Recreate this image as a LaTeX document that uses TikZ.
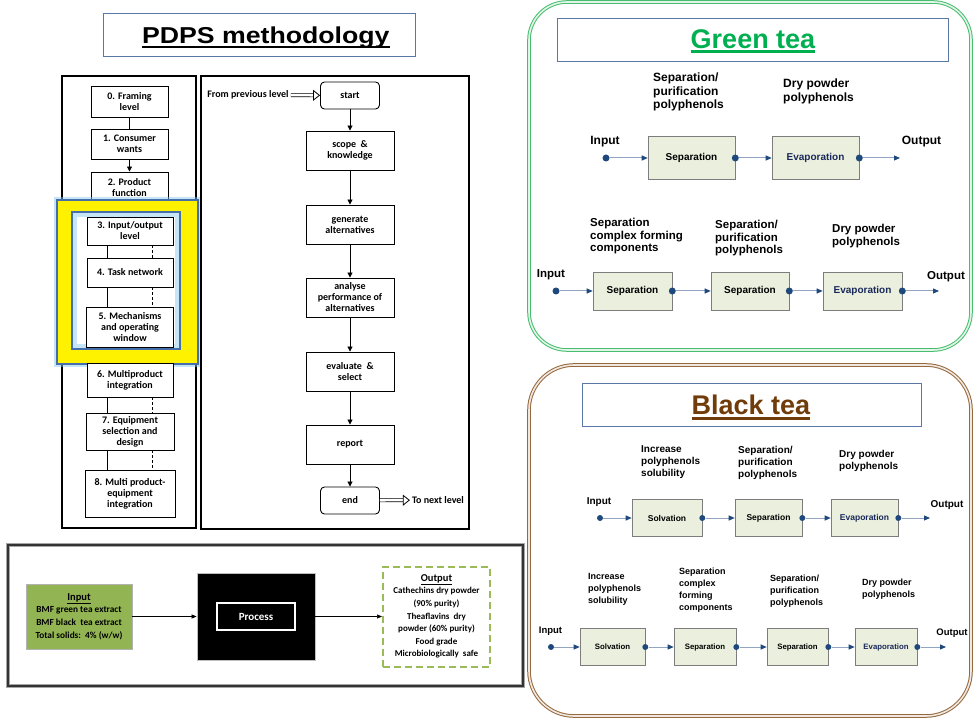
\documentclass[tikz,border=0pt]{standalone}
\usepackage{fontspec}
\setmainfont{Liberation Sans}
\newfontfamily\carl{Carlito}
\usetikzlibrary{arrows.meta}

\begin{document}
\begin{tikzpicture}[x=1pt,y=1pt,
  lvl/.style={draw=black,line width=0.9pt,fill=white,align=center,inner sep=1pt,
    font=\carl\bfseries\fontsize{10}{11}\selectfont},
  stp/.style={lvl,minimum width=88pt,minimum height=39pt},
  trm/.style={lvl,rounded corners=4pt,minimum width=59pt,minimum height=27pt},
  link/.style={draw=black,line width=0.9pt},
  down/.style={link,-{Triangle[length=5pt,width=5pt]}},
  dblarrow/.style={draw=black,double=white,double distance=2.4pt,line width=0.7pt,
    -{Triangle[open,length=7pt,width=11pt,line width=0.8pt]}},
  opbox/.style={draw=uDraw,fill=uFill,line width=0.6pt,inner sep=0pt,
    font=\bfseries\fontsize{#1}{#1}\selectfont},
  pdot/.style={circle,fill=dBlue,inner sep=0pt,minimum size=#1},
  flow/.style={draw=lBlue,line width=1pt,-{Triangle[length=6pt,width=5pt,color=dBlue]}},
  plab/.style 2 args={anchor=north west,align=left,inner sep=0pt,
    font=\bfseries\fontsize{#1}{#2}\selectfont},
  io/.style={inner sep=0pt,font=\bfseries\fontsize{#1}{#1}\selectfont},
  titlebox/.style={draw=tBlue,line width=0.8pt}]
\definecolor{tBlue}{RGB}{90,120,165}
\definecolor{gTea}{RGB}{0,176,80}
\definecolor{gRim}{RGB}{70,190,110}
\definecolor{bTea}{RGB}{112,60,10}
\definecolor{bRim}{RGB}{150,105,60}
\definecolor{uFill}{RGB}{235,240,222}
\definecolor{uDraw}{RGB}{125,125,125}
\definecolor{dBlue}{RGB}{31,73,125}
\definecolor{eText}{RGB}{25,40,90}
\definecolor{lBlue}{RGB}{145,165,195}
\definecolor{iGreen}{RGB}{146,180,82}
\definecolor{oGreen}{RGB}{155,187,89}
\definecolor{hBlue}{RGB}{70,110,170}
\definecolor{glow}{RGB}{130,200,240}
\path[use as bounding box,fill=white] (0,0) rectangle (974,718);

% PDPS title
\node[titlebox,minimum width=312pt,minimum height=43pt] (pbox) at (259,683.5) {};
\node[inner sep=0pt,anchor=base,xscale=1.16,font=\bfseries\fontsize{23}{23}\selectfont] (ptitle) at (265.8,674.7) {PDPS methodology};
\draw[line width=2.3pt] ([yshift=-3.7pt]ptitle.base west) -- ([yshift=-3.7pt]ptitle.base east);

% levels
\draw[line width=1.2pt] (62,642) rectangle (196,190);
\node[lvl,minimum width=77pt,minimum height=31pt] (b0) at (129.5,616.5) {0. Framing\\level};
\node[lvl,minimum width=77pt,minimum height=30pt] (b1) at (129.5,574) {1. Consumer\\wants};
\node[lvl,minimum width=77pt,minimum height=32pt] (b2) at (129.5,530) {2. Product\\function};
\draw[link] (b0) -- (b1);
\draw[down] (b1) -- (b2);

\draw[draw=glow,line width=6pt,opacity=0.45] (57,518) rectangle (198,354);
\draw[draw=hBlue,fill=yellow,line width=1.2pt] (57,518) rectangle (198,354);
\fill[white] (72,506) rectangle (180,369);
\draw[draw=glow,line width=5pt,opacity=0.45] (74.5,503.5) rectangle (177.5,371.5);
\draw[draw=hBlue,line width=1.2pt] (72,506) rectangle (180,369);

\node[lvl,minimum width=86pt,minimum height=28pt] (b3) at (130,487) {3. Input/output\\level};
\node[lvl,minimum width=86pt,minimum height=29pt] (b4) at (130,445.5) {4. Task network};
\node[lvl,minimum width=87pt,minimum height=40pt] (b5) at (130,391) {5. Mechanisms\\and operating\\window};
\node[lvl,minimum width=86pt,minimum height=34pt] (b6) at (130,338) {6. Multiproduct\\integration};
\node[lvl,minimum width=88pt,minimum height=37pt] (b7) at (130,286.5) {7. Equipment\\selection and\\design};
\node[lvl,minimum width=90pt,minimum height=47pt] (b8) at (130,224.5) {8. Multi product-\\equipment\\integration};
\draw[link] ([xshift=-23pt]b3.south) -- ([xshift=-23pt]b4.north);
\draw[link,dash pattern=on 3pt off 2pt] ([xshift=22pt]b3.south) -- ([xshift=22pt]b4.north);
\draw[link] ([xshift=-23pt]b4.south) -- ([xshift=-23pt]b5.north);
\draw[link,dash pattern=on 3pt off 2pt] ([xshift=22pt]b4.south) -- ([xshift=22pt]b5.north);
\draw[link] ([xshift=-23pt]b6.south) -- ([xshift=-23pt]b7.north);
\draw[link,dash pattern=on 3pt off 2pt] ([xshift=22pt]b6.south) -- ([xshift=22pt]b7.north);
\draw[link] ([xshift=-23pt]b7.south) -- ([xshift=-23pt]b8.north);
\draw[link,dash pattern=on 3pt off 2pt] ([xshift=22pt]b7.south) -- ([xshift=22pt]b8.north);

% steps
\draw[line width=1.2pt] (201,642) rectangle (469,189);
\node[inner sep=2pt,font=\carl\bfseries\fontsize{10}{11}\selectfont] (prev) at (248,623) {From previous level};
\node[trm] (start) at (350,622.5) {start};
\node[stp] (scope) at (350,567.5) {scope\ \ \&\\knowledge};
\node[stp] (gen) at (350,493.5) {generate\\alternatives};
\node[stp] (anal) at (350,420.5) {analyse\\performance of\\alternatives};
\node[stp] (eval) at (350,346.5) {evaluate\ \ \&\\select};
\node[stp] (rep) at (350,273.5) {report};
\node[trm] (end) at (350,217.5) {end};
\node[inner sep=2pt,font=\carl\bfseries\fontsize{10}{11}\selectfont] (next) at (438,218) {To next level};
\draw[dblarrow] (prev) -- (start);
\draw[down] (start) -- (scope);
\draw[down] (scope) -- (gen);
\draw[down] (gen) -- (anal);
\draw[down] (anal) -- (eval);
\draw[down] (eval) -- (rep);
\draw[down] (rep) -- (end);
\draw[dblarrow] (end) -- (next);

% input - process - output
\draw[draw=black!35,line width=3.5pt] (8,173) rectangle (523,32);
\draw[draw=black!80,line width=1.6pt] (8,173) rectangle (523,32);
\node[draw=black!30,fill=iGreen,minimum width=106pt,minimum height=65pt,align=center,inner sep=0pt,
  font=\carl\bfseries\fontsize{9.3}{12.8}\selectfont] (inbox) at (79,101.5)
  {{\fontsize{10.5}{12.8}\selectfont\underline{Input}}\\BMF green tea extract\\BMF black\ \ tea extract\\Total solids:\ \ 4\% (w/w)};
\node[draw=black!25,fill=black,line width=0.8pt,minimum width=118pt,minimum height=87pt] (proc) at (256,101.5) {};
\node[draw=white,fill=black,text=white,line width=1.8pt,minimum width=78pt,minimum height=27pt,
  font=\carl\bfseries\fontsize{11}{11}\selectfont] (pin) at (256,101.5) {Process};
\node[draw=oGreen,dash pattern=on 7pt off 4pt,line width=2pt,minimum width=107pt,minimum height=100pt,
  align=center,inner sep=0pt,font=\carl\bfseries\fontsize{9}{12.6}\selectfont] (outbox) at (436.5,101.5)
  {{\fontsize{10.5}{12.6}\selectfont\underline{Output}}\\Cathechins dry powder\\(90\% purity)\\Theaflavins\ \ dry\\powder (60\% purity)\\Food grade\\Microbiologically\ \ safe};
\draw[link,line width=0.6pt,-{Triangle[length=5pt,width=4pt]}] (inbox) -- (proc);
\draw[link,line width=0.6pt,-{Triangle[length=5pt,width=4pt]}] (proc) -- (outbox);

% green tea
\draw[draw=gRim,double=gRim!15,double distance=1.6pt,line width=1pt,rounded corners=38pt] (529,716) rectangle (971,368);
\node[titlebox,minimum width=391pt,minimum height=43pt] (gbox) at (752.5,678.5) {};
\node[inner sep=0pt,anchor=base,text=gTea,font=\bfseries\fontsize{27}{27}\selectfont] (gtitle) at (753,669) {Green tea};
\draw[draw=gTea,line width=2.5pt] ([yshift=-2.5pt]gtitle.base west) -- ([yshift=-2.5pt]gtitle.base east);

\node[plab={12}{13.5}] (g1l1) at (653,645) {Separation/\\purification\\polyphenols};
\node[plab={12}{13.5}] (g1l2) at (783,639) {Dry powder\\polyphenols};
\node[io=12] (g1in) at (605,576) {Input};
\node[io=12] (g1out) at (921.5,576) {Output};
\node[pdot=7pt] (g1i) at (606,560) {};
\node[opbox=10,minimum width=87pt,minimum height=43pt] (g1a) at (691.5,560) {Separation};
\node[opbox=10,minimum width=87pt,minimum height=43pt,text=eText] (g1b) at (815.5,560) {Evaporation};
\node[pdot=7pt] (g1d1) at (g1a.east) {};
\node[pdot=7pt] (g1d2) at (g1b.east) {};
\coordinate (g1o) at (900,560);
\draw[flow] (g1i) -- (g1a);
\draw[flow] (g1d1) -- (g1b);
\draw[flow] (g1d2) -- (g1o);

\node[plab={11.5}{12.5}] (g2l1) at (590,500) {Separation\\complex forming\\components};
\node[plab={11.5}{12.5}] (g2l2) at (715,498) {Separation/\\purification\\polyphenols};
\node[plab={11.5}{12.5}] (g2l3) at (832,494) {Dry powder\\polyphenols};
\node[io=11.5] (g2in) at (551,443) {Input};
\node[io=11.5] (g2out) at (946,441) {Output};
\node[pdot=7pt] (g2i) at (556,427) {};
\node[opbox=10,minimum width=79pt,minimum height=38pt] (g2a) at (632.5,427) {Separation};
\node[opbox=10,minimum width=78pt,minimum height=38pt] (g2b) at (750,427) {Separation};
\node[opbox=10,minimum width=79pt,minimum height=38pt,text=eText] (g2c) at (862.5,427) {Evaporation};
\node[pdot=7pt] (g2d1) at (g2a.east) {};
\node[pdot=7pt] (g2d2) at (g2b.east) {};
\node[pdot=7pt] (g2d3) at (g2c.east) {};
\coordinate (g2o) at (939,427);
\draw[flow] (g2i) -- (g2a);
\draw[flow] (g2d1) -- (g2b);
\draw[flow] (g2d2) -- (g2c);
\draw[flow] (g2d3) -- (g2o);

% black tea
\draw[draw=bRim,double=bRim!15,double distance=1.6pt,line width=1pt,rounded corners=45pt] (529,353) rectangle (971,2);
\node[titlebox,minimum width=339pt,minimum height=43pt] (kbox) at (751.5,313.5) {};
\node[inner sep=0pt,anchor=base,text=bTea,font=\bfseries\fontsize{27}{27}\selectfont] (ktitle) at (751,303.7) {Black tea};
\draw[draw=bTea,line width=3pt] ([yshift=-4pt]ktitle.base west) -- ([yshift=-4pt]ktitle.base east);

\node[plab={10}{12}] (k1l1) at (641,273) {Increase\\polyphenols\\solubility};
\node[plab={10}{12}] (k1l2) at (738,272) {Separation/\\purification\\polyphenols};
\node[plab={10}{12}] (k1l3) at (839,268) {Dry powder\\polyphenols};
\node[io=10] (k1in) at (599,216) {Input};
\node[io=10] (k1out) at (947,213) {Output};
\node[pdot=6pt] (k1i) at (600,200) {};
\node[opbox=8.5,minimum width=70pt,minimum height=37pt] (k1a) at (667,200) {Solvation};
\node[opbox=8.5,minimum width=67pt,minimum height=37pt] (k1b) at (768.5,200) {Separation};
\node[opbox=8.5,minimum width=67pt,minimum height=37pt,text=eText] (k1c) at (864.5,200) {Evaporation};
\node[pdot=6pt] (k1d1) at (k1a.east) {};
\node[pdot=6pt] (k1d2) at (k1b.east) {};
\node[pdot=6pt] (k1d3) at (k1c.east) {};
\coordinate (k1o) at (930,200);
\draw[flow] (k1i) -- (k1a);
\draw[flow] (k1d1) -- (k1b);
\draw[flow] (k1d2) -- (k1c);
\draw[flow] (k1d3) -- (k1o);

\node[plab={9}{12}] (k2l1) at (588,145) {Increase\\polyphenols\\solubility};
\node[plab={9}{12}] (k2l2) at (679,150) {Separation\\complex\\forming\\components};
\node[plab={9}{12}] (k2l3) at (770,143) {Separation/\\purification\\polyphenols};
\node[plab={9}{12}] (k2l4) at (862,139) {Dry powder\\polyphenols};
\node[io=9.5] (k2in) at (550.5,87) {Input};
\node[io=9.5] (k2out) at (952,85) {Output};
\node[pdot=6pt] (k2i) at (551,71) {};
\node[opbox=7.8,minimum width=65pt,minimum height=37pt] (k2a) at (612.5,71) {Solvation};
\node[opbox=7.8,minimum width=62pt,minimum height=37pt] (k2b) at (705,71) {Separation};
\node[opbox=7.8,minimum width=61pt,minimum height=37pt] (k2c) at (797.5,71) {Separation};
\node[opbox=7.8,minimum width=62pt,minimum height=37pt,text=eText] (k2d) at (886,71) {Evaporation};
\node[pdot=6pt] (k2d1) at (k2a.east) {};
\node[pdot=6pt] (k2d2) at (k2b.east) {};
\node[pdot=6pt] (k2d3) at (k2c.east) {};
\node[pdot=6pt] (k2d4) at (k2d.east) {};
\coordinate (k2o) at (946,71);
\draw[flow] (k2i) -- (k2a);
\draw[flow] (k2d1) -- (k2b);
\draw[flow] (k2d2) -- (k2c);
\draw[flow] (k2d3) -- (k2d);
\draw[flow] (k2d4) -- (k2o);
\end{tikzpicture}
\end{document}
